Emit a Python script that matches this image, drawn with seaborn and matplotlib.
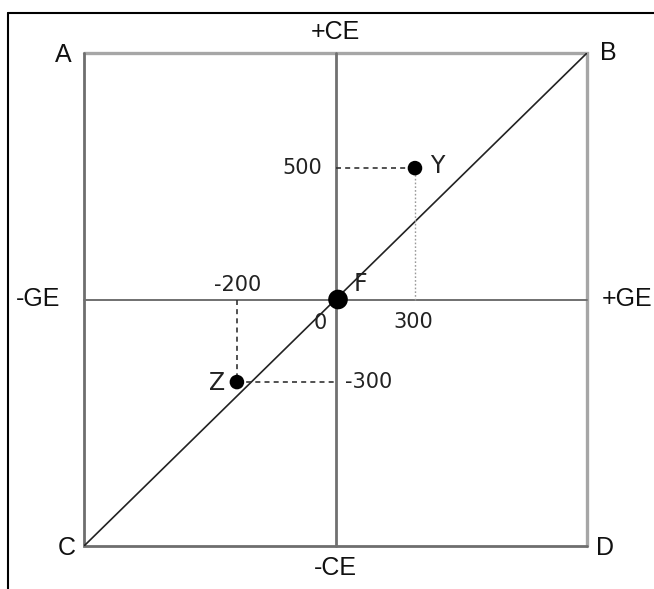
import seaborn as sns
import matplotlib.pyplot as plt
import pandas as pd
from matplotlib.lines import Line2D

# Points (square spans -1..1 on both axes)
point_names = ["Y", "Z"]
point_x = [0.316, -0.392]
point_y = [0.533, -0.335]
x_values = ["300", "-200"]
y_values = ["500", "-300"]
origin_x = [0.01]
origin_y = [0.0]

corner_names = ["A", "B", "C", "D"]
axis_names = ["+CE", "-CE", "-GE", "+GE"]

sns.set_style("white")
plt.rcParams['font.family'] = ['DejaVu Sans']

fig = plt.figure(figsize=(6.54, 5.89), dpi=100)
ax = fig.add_axes([84 / 654, 43 / 589, 503 / 654, 493 / 589])

# square outline and axes
ax.plot([-1, 1, 1], [1, 1, -1], color="#a6a6a6", lw=2.4,
        solid_joinstyle="miter", clip_on=False)
ax.plot([-1, -1, 1], [1, -1, -1], color="#6e6e6e", lw=2.0,
        solid_joinstyle="miter", clip_on=False)
ax.plot([0, 0], [-1, 1], color="#707070", lw=2.0, clip_on=False)
ax.plot([-1, 1], [0, 0], color="#707070", lw=1.4, clip_on=False)

# diagonal
sns.lineplot(x=[-1, 1], y=[-1, 1], color="#222222", lw=1.2, ax=ax)

# guide lines
yx, zx = point_x
yy, zy = point_y
ax.plot([0, yx], [yy, yy], color="#333333", lw=1.2, ls=(0, (3, 2.5)))
ax.plot([yx, yx], [0, yy], color="#999999", lw=1.0, ls=(0, (1.2, 1.5)))
ax.plot([zx, 0], [zy, zy], color="#333333", lw=1.2, ls=(0, (3, 2.5)))
ax.plot([zx, zx], [0, zy], color="#333333", lw=1.2, ls=(0, (3, 2.5)))

df = pd.DataFrame({"x": point_x, "y": point_y, "name": point_names})
sns.scatterplot(data=df, x="x", y="y", color="black", s=110, edgecolor="none",
                ax=ax, zorder=5)
sns.scatterplot(x=origin_x, y=origin_y, color="black", s=200, edgecolor="none",
                ax=ax, zorder=5)
ax.set_xlim(-1, 1)
ax.set_ylim(-1, 1)
ax.axis("off")

num_font = dict(family="DejaVu Sans", color="#222222")
let_font = dict(family="Liberation Sans", size=18, color="#111111")

# point labels
ax.text(yx + 0.09, yy + 0.008, "Y", ha="center", va="center", size=17, **num_font)
ax.text(zx - 0.077, zy - 0.004, "Z", ha="center", va="center", size=17, **num_font)
ax.text(0.1, 0.063, "F", ha="center", va="center", size=17, **num_font)
ax.text(-0.062, -0.095, "0", ha="center", va="center", size=15, **num_font)

# value labels
ax.text(-0.054, yy, y_values[0], ha="right", va="center", size=15, **num_font)
ax.text(0.036, zy, y_values[1], ha="left", va="center", size=15, **num_font)
ax.text(yx - 0.008, -0.091, x_values[0], ha="center", va="center", size=15, **num_font)
ax.text(zx + 0.004, 0.059, x_values[1], ha="center", va="center", size=15, **num_font)

# corner labels
corner_pos = [(-1.083, 0.992), (1.083, 1.0), (-1.068, -1.008), (1.072, -1.008)]
for name, (cx, cy) in zip(corner_names, corner_pos):
    ax.text(cx, cy, name, ha="center", va="center", clip_on=False, **let_font)

axis_pos = [(0, 1.085), (0, -1.089), (-1.183, 0), (1.16, 0)]
for name, (cx, cy) in zip(axis_names, axis_pos):
    ax.text(cx, cy, name, ha="center", va="center", clip_on=False, **let_font)

# image border (left and top only)
fig.add_artist(Line2D([8 / 654, 8 / 654], [0, 1 - 13 / 589], color="black", lw=1.5))
fig.add_artist(Line2D([8 / 654, 1], [1 - 13 / 589, 1 - 13 / 589], color="black", lw=1.5))

fig.savefig("out.png", dpi=100)
